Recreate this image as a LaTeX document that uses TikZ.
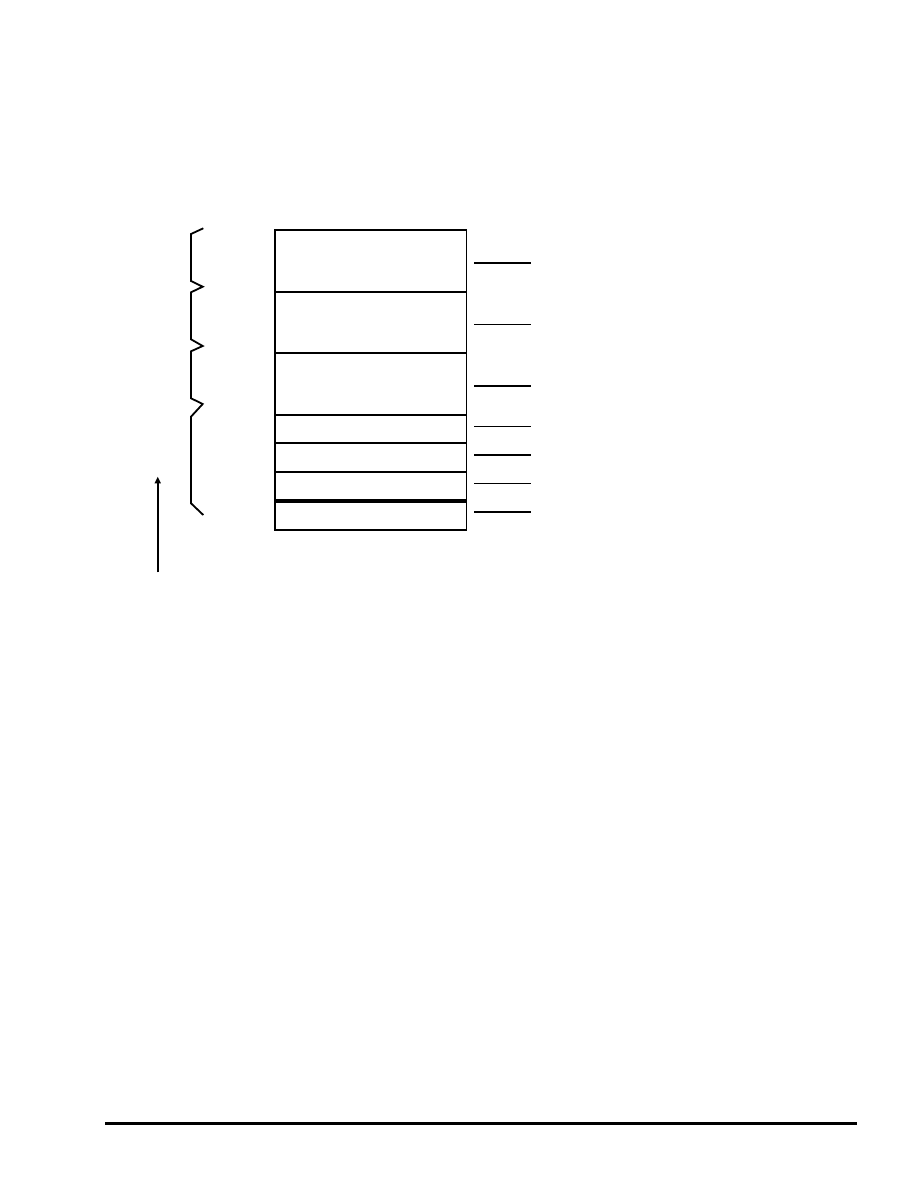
\documentclass[tikz,border=0pt]{standalone}
\usetikzlibrary{arrows.meta}
\begin{document}
\begin{tikzpicture}[x=0.6667pt,y=-0.6667pt,
  boxline/.style={line width=1.2pt},
  thickdiv/.style={line width=2.2pt},
  thicktick/.style={line width=1.3pt},
  thintick/.style={line width=0.75pt},
  braceline/.style={line width=1.2pt, line join=miter},
  rule/.style={line width=2.2pt}]
\useasboundingbox (0,0) rectangle (918,1188);
% layered box
\draw[boxline] (275,230) rectangle (466.5,530);
\foreach \y in {291.7,353,414.7,442.7,471.7}
  \draw[boxline] (275,\y) -- (466.5,\y);
\draw[thickdiv] (275,501) -- (466.5,501);
% right ticks
\foreach \y in {262.7,385.7,455,512}
  \draw[thicktick] (474.3,\y) -- (530.7,\y);
\foreach \y in {324.3,426.3,483.3}
  \draw[thintick] (474.3,\y) -- (530.7,\y);
% brace
\draw[braceline] (203.3,228.3) -- (191,234) -- (191,281) -- (202.7,286.7) -- (191,292.3)
  -- (191,339.3) -- (202.7,346) -- (191,351.3) -- (191,398.3) -- (202.7,404) -- (191,416.7)
  -- (191,503.3) -- (203.3,515);
% arrow
\coordinate (a0) at (157.7,572.3);
\coordinate (a1) at (157.7,476.7);
\draw[line width=1.2pt,-{Triangle[length=4.5pt,width=4pt]}] (a0) -- (a1);
% bottom rule
\coordinate (r0) at (105,1123.3);
\coordinate (r1) at (856.7,1123.3);
\draw[rule] (r0) -- (r1);
\end{tikzpicture}
\end{document}
